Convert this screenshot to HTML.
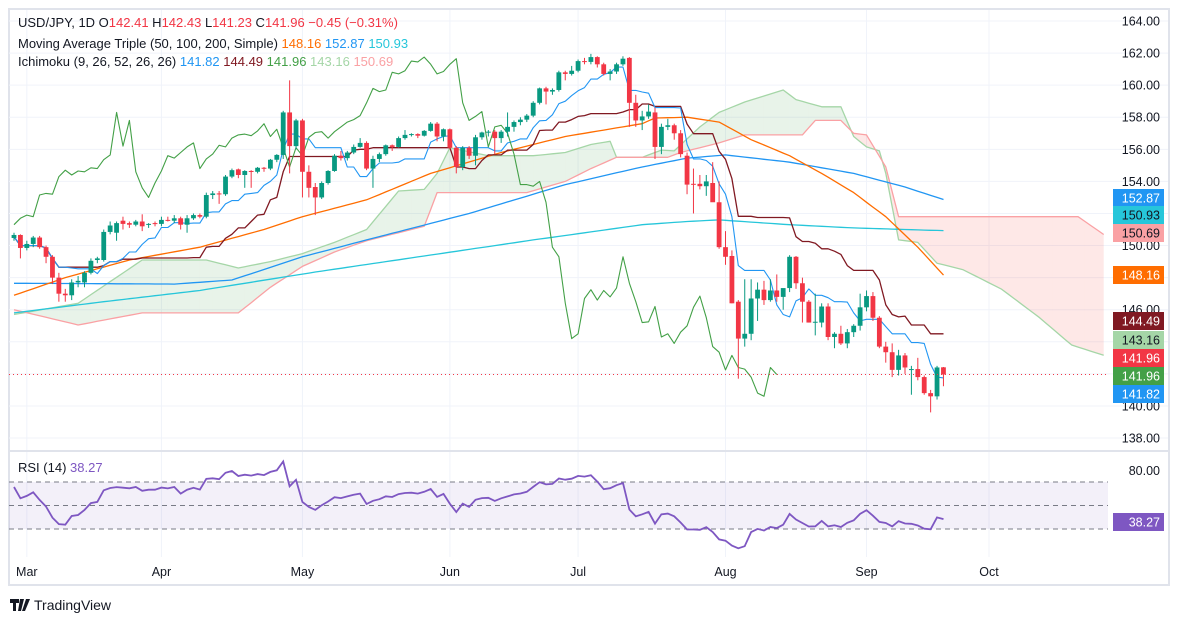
<!DOCTYPE html>
<html><head><meta charset="utf-8">
<style>
html,body{margin:0;padding:0;background:#fff;width:1180px;height:623px;overflow:hidden;font-family:"Liberation Sans",sans-serif}
svg{position:absolute;left:0;top:0}
</style></head>
<body>
<svg id="chart" width="1180" height="623" viewBox="0 0 1180 623" xmlns="http://www.w3.org/2000/svg">
<rect x="9" y="9" width="1160" height="576" fill="#fff" stroke="#e0e3eb" stroke-width="2"/>
<g id="grid"></g>
<g id="cloud"></g>
<g id="lines"></g>
<g id="candles"></g>
<g id="rsi"></g>
<g id="axis"></g>
<g id="xaxis"></g>
<g font-size="13" fill="#131722">
<text x="18" y="27">USD/JPY, 1D  O<tspan fill="#f23645">142.41</tspan>  H<tspan fill="#f23645">142.43</tspan>  L<tspan fill="#f23645">141.23</tspan>  C<tspan fill="#f23645">141.96  −0.45 (−0.31%)</tspan></text>
<text x="18" y="48">Moving Average Triple (50, 100, 200, Simple)  <tspan fill="#ff6d00">148.16</tspan>  <tspan fill="#2196f3">152.87</tspan>  <tspan fill="#26c6da">150.93</tspan></text>
<text x="18" y="66">Ichimoku (9, 26, 52, 26, 26)  <tspan fill="#2196f3">141.82</tspan>  <tspan fill="#801922">144.49</tspan>  <tspan fill="#43a047">141.96</tspan>  <tspan fill="#a5d6a7">143.16</tspan>  <tspan fill="#faa1a4">150.69</tspan></text>
<text x="18" y="472">RSI (14)  <tspan fill="#7e57c2">38.27</tspan></text>
</g>
<g>
<path d="M10 599h9v4h-3v8h-3v-8h-3z M20 599h4l-3 12h-3z M26 599h4l-5 12h-3z" fill="#131722"/>
<text x="34" y="610" font-size="14" fill="#131722">TradingView</text>
</g>
</svg>
<script>
const opens=[150.47,150.66,149.85,150.1,150.5,149.9,149.3,148.0,147.0,146.9,147.7,147.7,148.3,149.1,149.1,150.85,150.8,151.55,151.4,151.3,151.5,151.3,151.4,151.35,151.6,151.55,151.7,151.3,151.7,151.9,151.8,153.15,153.25,153.2,154.3,154.75,154.4,154.65,154.6,154.85,154.8,155.35,155.65,158.3,156.2,157.8,154.6,153.65,153.0,153.9,154.65,155.6,155.45,155.8,156.15,156.4,154.8,155.4,155.7,156.25,156.15,156.7,156.9,156.95,156.85,157.15,157.6,156.8,157.25,156.1,154.9,156.1,155.6,156.75,157.05,157.1,156.7,157.1,157.4,157.7,157.85,158.1,158.9,159.8,159.6,159.7,160.8,160.7,160.9,161.5,161.45,161.75,161.3,160.7,160.85,161.3,161.7,158.9,157.8,158.05,158.3,156.15,157.4,157.5,157.0,155.6,153.85,153.85,153.7,153.9,152.7,149.9,149.35,146.5,144.2,144.5,146.7,147.25,146.6,147.2,146.8,147.35,149.3,147.65,146.5,145.2,145.2,146.2,144.3,144.5,143.9,144.6,145.0,146.15,146.85,145.5,143.7,143.35,142.25,143.15,142.3,142.3,141.8,140.8,140.6,142.41];
const highs=[150.8,150.7,150.3,150.6,150.6,150.0,149.4,148.3,147.3,147.9,148.1,148.4,149.2,149.3,151.0,151.5,151.5,151.8,151.5,151.6,151.95,151.4,151.5,151.8,151.8,151.9,151.8,151.9,152.0,152.0,153.3,153.4,153.4,154.4,154.8,154.8,154.7,154.7,154.9,154.9,155.4,155.7,158.4,160.3,157.9,157.9,155.0,153.9,154.0,154.7,155.7,155.9,155.9,156.3,156.7,156.5,155.6,155.8,156.3,156.3,156.8,157.2,157.0,157.0,157.2,157.7,157.7,157.3,157.3,156.2,156.2,156.2,156.9,157.1,157.2,157.2,157.2,158.3,157.8,158.0,158.2,159.0,159.85,159.9,159.8,160.9,160.9,161.2,161.6,161.7,161.95,161.8,161.4,161.0,161.4,161.8,161.75,159.4,158.4,158.8,158.6,157.6,157.9,157.6,157.2,155.8,154.8,154.4,154.4,155.2,154.0,150.9,149.7,146.6,147.9,147.9,147.7,147.8,147.9,148.2,147.3,149.4,149.35,148.0,146.6,147.0,146.4,146.4,144.6,145.0,144.8,145.1,147.0,147.2,147.1,145.6,144.0,143.9,143.5,143.3,142.5,143.0,141.9,141.0,142.5,142.43];
const lows=[150.3,149.2,149.7,149.9,149.8,148.9,147.6,146.5,146.5,146.6,147.4,147.4,148.2,148.9,149.0,150.7,150.3,151.0,151.1,151.2,150.9,151.1,151.2,151.2,151.5,151.4,151.0,150.8,151.6,151.7,151.7,152.9,152.6,153.1,154.2,154.2,153.6,153.6,154.5,154.6,154.7,155.2,155.4,154.5,156.0,153.0,153.0,151.9,152.9,153.8,154.6,155.3,155.3,155.7,156.1,154.7,153.6,155.2,155.6,155.9,156.1,156.6,156.8,156.7,156.8,157.1,156.5,156.5,156.0,154.5,154.7,155.4,155.0,156.6,156.8,155.7,156.4,156.8,157.1,157.5,157.7,158.0,158.8,158.8,159.4,159.6,160.3,160.6,160.8,161.3,161.3,161.1,160.6,160.3,160.7,161.2,157.4,157.4,157.2,157.9,155.4,155.7,157.2,156.6,155.5,153.2,152.0,153.5,153.1,152.9,149.8,148.8,146.4,141.7,143.7,144.1,145.3,146.3,146.5,146.5,146.0,147.1,147.3,145.2,145.2,144.4,144.9,144.1,143.6,143.8,143.6,144.3,144.7,145.9,145.3,143.6,142.7,141.8,141.9,142.0,140.7,141.6,140.7,139.6,140.4,141.23];
const closes=[150.66,149.85,150.1,150.5,149.9,149.3,148.0,147.0,146.9,147.7,147.8,148.3,149.05,149.2,150.85,151.25,151.4,151.35,151.3,151.5,151.2,151.35,151.35,151.6,151.55,151.7,151.3,151.7,151.9,151.8,153.15,153.25,153.2,154.3,154.7,154.4,154.65,154.6,154.85,154.8,155.35,155.65,158.3,156.2,157.8,154.6,153.6,153.0,153.9,154.65,155.6,155.45,155.8,156.15,156.4,154.8,155.4,155.7,156.25,156.15,156.7,156.9,156.95,156.85,157.15,157.6,156.8,157.25,156.1,154.9,156.1,155.6,156.75,157.05,157.1,156.7,157.1,157.4,157.7,157.85,158.1,158.9,159.8,159.6,159.7,160.8,160.7,160.9,161.5,161.45,161.75,161.3,160.7,160.85,161.3,161.65,158.9,157.8,158.05,158.35,156.15,157.4,157.5,157.0,155.7,153.8,153.8,153.7,154.0,152.7,149.9,149.3,146.4,144.2,144.5,146.7,147.25,146.6,147.2,146.8,147.35,149.3,147.65,146.5,145.2,145.25,146.2,144.3,144.5,143.9,144.6,145.0,146.15,146.85,145.5,143.7,143.35,142.25,143.15,142.4,142.3,141.8,140.8,140.6,142.4,141.96];
const spanAIdx=[0,10,20,30,35,40,45,50,55,60,64,66,68,74,81,86,90,93,94,98,101,103,107,110,114,120,122,126,129,131,133,135,136,138,141,144,148,154,160,165,170];
const spanAVal=[145.7,146.4,149.1,149.1,148.6,149.0,149.5,150.2,151.0,153.4,153.5,154.5,156.1,155.6,155.6,155.8,156.3,156.5,155.5,155.5,155.95,155.9,157.4,158.3,158.95,159.7,159.1,158.65,158.65,156.8,156.15,155.9,154.5,150.35,150.2,148.9,148.5,147.3,145.5,143.8,143.16];
const spanBIdx=[0,10,20,35,40,45,50,55,60,64,66,80,86,90,94,102,104,110,114,123,125,129,131,133,136,138,166,170];
const spanBVal=[146.0,145.05,145.8,145.8,147.4,148.7,149.6,150.3,150.8,151.2,153.3,153.3,154.0,154.8,155.5,155.5,155.8,156.4,156.9,156.9,157.8,157.8,157.0,156.9,154.9,151.8,151.8,150.69];
const ma50Idx=[0,8,18,29,39,45,55,65,76,86,98,100,105,110,115,121,126,131,136,141,145];
const ma50Val=[146.9,148.0,149.1,149.9,151.0,151.8,152.85,154.5,155.8,156.8,157.6,157.95,158.0,157.7,156.6,155.6,154.5,153.3,151.8,149.9,148.16];
const ma100Idx=[0,25,34,45,55,71,86,98,105,111,121,131,139,145];
const ma100Val=[147.65,147.6,147.85,149.3,150.35,152.0,153.8,154.9,155.45,155.65,155.2,154.5,153.65,152.87];
const ma200Idx=[0,14,29,47,81,98,105,110,121,131,145];
const ma200Val=[145.8,146.5,147.2,148.35,150.35,151.3,151.5,151.6,151.3,151.1,150.93];
const priceTicks=[164,162,160,158,156,154,152,150,148,146,144,142,140,138];
const monthLabels=["Mar","Apr","May","Jun","Jul","Aug","Sep","Oct"];
const monthIdx=[2,23,45,68,88,111,133,155];
const rsiTicks=[80];
const rsiSeedGain=0.24, rsiSeedLoss=0.125;

const NS="http://www.w3.org/2000/svg";
const X0=14, DX=6.41, CL=9, CR=1108;
function xs(i){return X0+i*DX;}
function ys(p){return 21+(164-p)*16.04;}
function yr(v){return 482+(70-v)*1.175;}
function mk(tag,attrs,parent){const e=document.createElementNS(NS,tag);for(const k in attrs)e.setAttribute(k,attrs[k]);parent.appendChild(e);return e;}
function interp(idx,val,n){const out=[];for(let i=0;i<=n;i++){let k=0;while(k<idx.length-2&&idx[k+1]<i)k++;const t=(i-idx[k])/(idx[k+1]-idx[k]);out.push(val[k]+(val[k+1]-val[k])*Math.max(0,Math.min(1,t)));}return out;}
function path(pts){return pts.map((p,i)=>(i?'L':'M')+p[0].toFixed(1)+' '+p[1].toFixed(1)).join('');}

const grid=document.getElementById('grid');
priceTicks.forEach(p=>{const l=mk('line',{x1:CL,x2:1168,y1:ys(p),y2:ys(p),stroke:'#f0f3fa','stroke-width':1},grid);

});
monthIdx.forEach((m,k)=>{const x=k==7?989:xs(m);const l=mk('line',{x1:x,x2:x,y1:10,y2:557,stroke:'#f0f3fa','stroke-width':1},grid);

});
const sep=mk('line',{x1:CL,x2:1168,y1:451,y2:451,stroke:'#e0e3eb','stroke-width':2},grid);



const defs=mk('defs',{},document.getElementById('chart'));
const cp=mk('clipPath',{id:'pc'},defs);mk('rect',{x:CL,y:10,width:CR-CL,height:440},cp);
const cp2=mk('clipPath',{id:'rc'},defs);mk('rect',{x:CL,y:452,width:CR-CL,height:104},cp2);

const cloud=document.getElementById('cloud');cloud.setAttribute('clip-path','url(#pc)');
const N=170;const A=interp(spanAIdx,spanAVal,N),B=interp(spanBIdx,spanBVal,N);
for(let i=0;i<N;i++){const up=(A[i]+A[i+1])>=(B[i]+B[i+1]);
const q=mk('polygon',{points:`${xs(i)},${ys(A[i])} ${xs(i+1)},${ys(A[i+1])} ${xs(i+1)},${ys(B[i+1])} ${xs(i)},${ys(B[i])}`,fill:up?'rgba(67,160,71,0.12)':'rgba(244,67,54,0.12)','stroke':'none'},cloud);

}
const lines=document.getElementById('lines');lines.setAttribute('clip-path','url(#pc)');
function drawLine(vals,start,color,name,w){const pts=[];for(let i=start;i<vals.length;i++)if(vals[i]!=null)pts.push([xs(i),ys(vals[i])]);
const p=mk('path',{d:path(pts),fill:'none',stroke:color,'stroke-width':w||1.3,'stroke-linejoin':'round'},lines);

}
drawLine(A,0,'#a5d6a7','span-a-line');
drawLine(B,0,'#faa1a4','span-b-line');
drawLine(interp(ma200Idx,ma200Val,145),0,'#26c6da','ma200-line');
drawLine(interp(ma100Idx,ma100Val,145),0,'#2196f3','ma100-line');
drawLine(interp(ma50Idx,ma50Val,145),0,'#ff6d00','ma50-line');
const n=closes.length;
function mid(i,p){const s=Math.max(0,i-p+1);let h=-1e9,l=1e9;for(let k=s;k<=i;k++){h=Math.max(h,highs[k]);l=Math.min(l,lows[k]);}return (h+l)/2;}
const tenkan=[],kijun=[];for(let i=0;i<n;i++){tenkan.push(mid(i,9));kijun.push(mid(i,26));}
drawLine(kijun,0,'#801922','kijun-line');
drawLine(tenkan,0,'#2196f3','tenkan-line',1.1);
const lag=[];for(let i=0;i<n;i++)lag.push(i+26<n?closes[i+26]:null);
drawLine(lag,0,'#43a047','lagging-span-line',1.1);

const cg=document.getElementById('candles');cg.setAttribute('clip-path','url(#pc)');
for(let i=0;i<n;i++){const up=closes[i]>=opens[i];const c=up?'#089981':'#f23645';const x=xs(i);
const w=mk('line',{x1:x,x2:x,y1:ys(highs[i]),y2:ys(lows[i]),stroke:c,'stroke-width':1},cg);


const t=ys(Math.max(opens[i],closes[i])),b=ys(Math.min(opens[i],closes[i]));
const r=mk('rect',{x:x-2.4,y:t,width:4.8,height:Math.max(1,b-t),fill:c},cg);

}
const pl=mk('line',{x1:CL,x2:CR,y1:ys(141.96),y2:ys(141.96),stroke:'#f23645','stroke-width':1,'stroke-dasharray':'1 3'},cg);



const rg=document.getElementById('rsi');
const band=mk('rect',{x:CL,y:yr(70),width:CR-CL,height:yr(30)-yr(70),fill:'rgba(126,87,194,0.09)'},rg);


[70,50,30].forEach(v=>{const l=mk('line',{x1:CL,x2:CR,y1:yr(v),y2:yr(v),stroke:'#787b86','stroke-width':1,'stroke-dasharray':'5 4'},rg);

});
const rsi=[];let ag=rsiSeedGain,al=rsiSeedLoss;
rsi.push([xs(0),yr(100-100/(1+ag/al))]);
for(let i=1;i<n;i++){const d=closes[i]-closes[i-1];const g=Math.max(d,0),lo=Math.max(-d,0);
ag=(ag*13+g)/14;al=(al*13+lo)/14;rsi.push([xs(i),yr(al==0?100:100-100/(1+ag/al))]);}
const rp=mk('path',{d:path(rsi),fill:'none',stroke:'#7e57c2','stroke-width':1.8,'clip-path':'url(#rc)'},rg);



const ax=document.getElementById('axis');
priceTicks.forEach(p=>{const t=mk('text',{x:1160,y:ys(p)+4.5,'text-anchor':'end','font-size':12.5,fill:'#131722'},ax);t.textContent=p.toFixed(2);

});
rsiTicks.forEach(v=>{const t=mk('text',{x:1160,y:yr(v)+4.5,'text-anchor':'end','font-size':12.5,fill:'#131722'},ax);t.textContent=v.toFixed(2);

});
const badges=[[198,'152.87','#2196f3','#fff'],[215,'150.93','#26c6da','#131722'],[233,'150.69','#faa1a4','#131722'],[275,'148.16','#ff6d00','#fff'],[321,'144.49','#801922','#fff'],[340,'143.16','#a5d6a7','#131722'],[358,'141.96','#f23645','#fff'],[376,'141.96','#43a047','#fff'],[394,'141.82','#2196f3','#fff'],[522,'38.27','#7e57c2','#fff']];
badges.forEach(b=>{const r=mk('rect',{x:1113,y:b[0]-9,width:51,height:18,fill:b[2]},ax);


const t=mk('text',{x:1160,y:b[0]+4.5,'text-anchor':'end','font-size':12.5,fill:b[3]},ax);t.textContent=b[1];

});

const xa=document.getElementById('xaxis');
monthLabels.forEach((m,k)=>{const x=k==7?989:xs(monthIdx[k]);const t=mk('text',{x:x,y:576,'text-anchor':'middle','font-size':12.5,fill:'#131722'},xa);t.textContent=m;

});
</script>
</body></html>
